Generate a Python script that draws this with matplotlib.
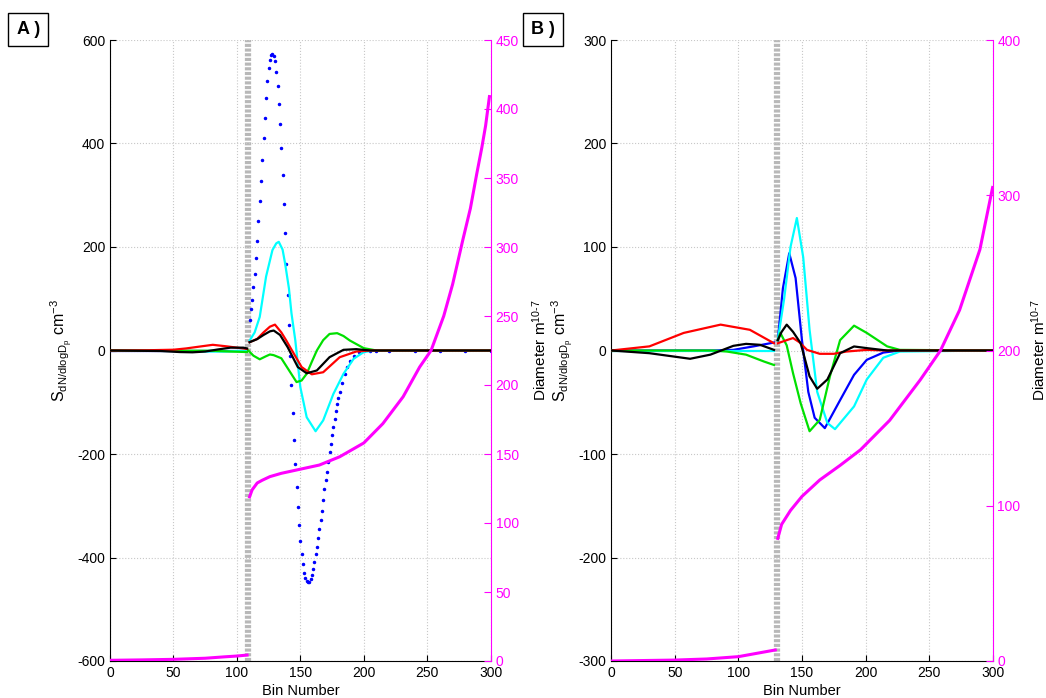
import numpy as np
import matplotlib
matplotlib.use('Agg')
import matplotlib.pyplot as plt

plt.rcParams['font.family'] = ['Liberation Sans', 'DejaVu Sans']
plt.rcParams['mathtext.fontset'] = 'custom'
plt.rcParams['mathtext.rm'] = 'Liberation Sans'
plt.rcParams['mathtext.it'] = 'Liberation Sans'
plt.rcParams['mathtext.default'] = 'rm'
plt.rcParams['axes.unicode_minus'] = False

# ---------------- panel A data ----------------
# before the gap (bins 0..108)
a_red_lo_x = [0, 30, 40, 50, 60, 71, 81, 92, 100, 108]
a_red_lo_y = [0, 0.5, 1, 1.5, 4, 7.7, 11, 8, 5.5, 3]
a_blk_lo_x = [0, 40, 55, 65, 75, 85, 95, 105, 108]
a_blk_lo_y = [0, -1, -3, -3.5, -2, 2, 5.5, 5.5, 4]
a_grn_lo_x = [0, 80, 95, 108]
a_grn_lo_y = [0, -0.5, -2, -3]
a_cyn_lo_x = [0, 50, 65, 90, 100, 108]
a_cyn_lo_y = [0, -1, -2, -2, -1, 0]
a_blu_lo_x = [0, 108]
a_blu_lo_y = [0, 0]

# after the gap
a_red_x = [110, 116, 121, 126, 130, 135, 139, 142, 151, 159, 168, 181, 194, 205, 220, 300]
a_red_y = [16, 22.5, 35, 46, 50, 35, 19, 6, -32, -46, -42, -13, -2, 0, 0, 0]
a_blk_x = [110, 116, 121, 126, 129, 134, 140, 148, 155, 163, 173, 184, 194, 205, 300]
a_blk_y = [16, 22, 30, 37, 38.6, 30, 6.4, -32, -44, -38.6, -12.9, 1.3, 2.6, 0, 0]
a_grn_x = [109, 113, 118, 123, 126, 129, 135, 141, 147, 151, 155, 159, 163, 168, 173, 179, 184, 189, 200, 210, 300]
a_grn_y = [0, -10, -17, -11, -7.7, -9, -15, -38, -61, -58, -45, -22, 0, 20, 32, 33.5, 28, 19.3, 4.5, 0, 0]
a_cyn_x = [110, 114, 118, 123, 128, 131, 133, 136, 138, 141, 143, 146, 150, 155, 162, 168, 176, 184, 192, 200, 208, 300]
a_cyn_y = [19, 35, 65, 143, 194, 207, 210, 195, 168, 120, 72, 20, -71, -129, -156, -135, -84, -45, -16, -3, 0, 0]
a_blu_x = [110, 111, 112, 113, 114, 115, 116, 117, 118, 119, 120, 121, 122, 123, 124, 125, 126, 127, 128, 129,
           130, 131, 132, 133, 134, 135, 136, 137, 138, 139, 140, 141, 142, 143, 144, 145, 146, 147, 148, 149,
           150, 151, 152, 153, 154, 155, 156, 157, 158, 159, 160, 161, 162, 163, 164, 165, 166, 167, 168, 169,
           170, 171, 172, 173, 174, 175, 176, 177, 178, 179, 180, 181, 183, 185, 187, 189, 192, 196, 200, 205,
           210, 220, 240, 260, 280, 300]
a_blu_y = [58, 80, 98, 122, 148, 178, 212, 250, 288, 328, 368, 410, 450, 488, 520, 545, 562, 571, 573, 570,
           559, 539, 512, 477, 437, 391, 340, 284, 228, 168, 107, 49, -10, -67, -120, -172, -219, -263, -303, -337,
           -368, -393, -413, -429, -439, -445, -448, -447, -442, -434, -422, -408, -394, -380, -362, -345, -328, -310, -289, -268,
           -250, -234, -216, -197, -180, -164, -148, -132, -116, -103, -92, -80, -62, -45, -32, -21, -10, -3, -1, 0,
           0, 0, 0, 0, 0, 0]

a_dia_lo_x = [0, 25, 50, 75, 90, 100, 108]
a_dia_lo_y = [0.5, 0.8, 1.2, 2, 3, 3.6, 4.3]
a_dia_x = [110, 112, 116, 120, 126, 135, 147, 165, 181, 200, 215, 231, 244, 253, 263, 270, 278, 284, 289, 293, 296, 299]
a_dia_y = [119, 124, 129, 131, 133.6, 136, 138.4, 142, 148, 158, 172, 191.5, 213, 225, 250, 273, 305, 328, 353, 372, 388, 409]

# ---------------- panel B data ----------------
b_red_lo_x = [0, 30, 57, 86, 109, 128]
b_red_lo_y = [0, 4, 17, 25, 20, 7]
b_blk_lo_x = [0, 30, 62, 78, 96, 106, 117, 128]
b_blk_lo_y = [0, -2.6, -8, -4, 4.5, 6.4, 5.5, 0.6]
b_grn_lo_x = [0, 80, 91, 106, 120, 128]
b_grn_lo_y = [0, 0, -1, -4, -10.6, -14]
b_cyn_lo_x = [0, 128]
b_cyn_lo_y = [0, 0]
b_blu_lo_x = [0, 80, 96, 112, 128]
b_blu_lo_y = [0, 0, 0.6, 4, 7.7]

b_red_x = [131, 138, 143, 148, 154, 164, 175, 185, 201, 217, 300]
b_red_y = [7, 10, 12, 8, 0.6, -3.2, -3.2, -1, 0.6, 0, 0]
b_blk_x = [131, 134, 138, 143, 149, 156, 162, 170, 180, 191, 201, 217, 300]
b_blk_y = [10, 18, 25, 18, 7, -25, -37, -28, -2.6, 3.9, 2.3, 0, 0]
b_grn_x = [131, 133, 138, 143, 149, 156, 164, 172, 180, 191, 201, 217, 227, 300]
b_grn_y = [10, 17, 5, -22, -51, -78, -67, -25, 10, 24, 17, 4, 0.6, 0]
b_cyn_x = [131, 136, 141, 146, 151, 156, 162, 170, 176, 191, 201, 214, 227, 300]
b_cyn_y = [10, 50, 100, 128, 90, 20, -40, -70, -76, -54, -28, -7, -1, 0]
b_blu_x = [131, 135, 140, 145, 150, 155, 160, 168, 180, 191, 201, 214, 227, 300]
b_blu_y = [10, 60, 94, 70, 10, -40, -65, -75, -48, -23.5, -9, -2, 0, 0]

b_dia_lo_x = [0, 50, 75, 100, 129]
b_dia_lo_y = [0, 0.6, 1.3, 2.8, 7.1]
b_dia_x = [131, 134, 141, 150, 164, 180, 196, 219, 243, 259, 274, 290, 300]
b_dia_y = [79, 88, 97, 106, 116.6, 126, 136, 155, 181, 200, 226, 265, 305]

GRAY = '#b8b8b8'
MAG = '#ff00ff'


def draw_panel(rect, tag, tag_x, gap, ylim, yticks, rlim, rticks, lo, hi, dia, rlab_x):
    ax = fig.add_axes(rect)
    ax.set_xlim(0, 300)
    ax.set_ylim(*ylim)
    ax.set_xticks(range(0, 301, 50))
    ax.set_yticks(yticks)
    ax.grid(True, color='#c8c8c8', linestyle=':', linewidth=0.8)
    ax.tick_params(direction='in', length=4, labelsize=10, top=False, right=False)
    ax.spines['top'].set_visible(False)
    ax.spines['right'].set_visible(False)

    # gap marker
    ax.axvline(gap, color=GRAY, lw=4.5, dashes=(0.5, 0.25), zorder=1)

    cols = ['blue', 'cyan', '#00e000', 'red', 'black']
    for c, (xl, yl), (xh, yh) in zip(cols, lo, hi):
        ax.plot(xl, yl, color=c, lw=1.6, zorder=3)
        if len(xh) > 60:
            ax.plot(xh, yh, '.', color=c, ms=3, zorder=3)
        else:
            ax.plot(xh, yh, color=c, lw=1.6, zorder=3)
    ax.set_xlabel('Bin Number', fontsize=10.5, labelpad=3)
    ax.set_ylabel(r'$S_{dN/dlogD_p}$ cm$^{-3}$', fontsize=11.5)
    ax.yaxis.set_label_coords(-0.095, 0.5)

    ax2 = ax.twinx()
    ax2.set_ylim(*rlim)
    ax2.set_yticks(rticks)
    ax2.tick_params(direction='in', length=5, labelsize=10, colors=MAG, labelcolor=MAG)
    for s in ['top', 'left', 'bottom']:
        ax2.spines[s].set_visible(False)
    ax2.spines['right'].set_color(MAG)
    (xl, yl), (xh, yh) = dia
    ax2.plot(xl, yl, color=MAG, lw=2.2)
    ax2.plot(xh, yh, color=MAG, lw=2.2)
    ax2.set_ylabel(r'Diameter m$^{10\text{-}7}$', fontsize=11)
    ax2.yaxis.set_label_coords(rlab_x, 0.5)

    fig.text(tag_x, 0.958, tag, fontsize=13, fontweight='bold', ha='center', va='center',
             bbox=dict(boxstyle='square,pad=0.45', fc='white', ec='black', lw=1))
    return ax


fig = plt.figure(figsize=(10.46, 6.98), dpi=100)

draw_panel([110 / 1046, 37 / 698, 380.7 / 1046, 621 / 698], 'A )', 0.027, 108.5,
           (-600, 600), range(-600, 601, 200), (0, 450), range(0, 451, 50),
           [(a_blu_lo_x, a_blu_lo_y), (a_cyn_lo_x, a_cyn_lo_y), (a_grn_lo_x, a_grn_lo_y),
            (a_red_lo_x, a_red_lo_y), (a_blk_lo_x, a_blk_lo_y)],
           [(a_blu_x, a_blu_y), (a_cyn_x, a_cyn_y), (a_grn_x, a_grn_y),
            (a_red_x, a_red_y), (a_blk_x, a_blk_y)],
           [(a_dia_lo_x, a_dia_lo_y), (a_dia_x, a_dia_y)], 1.105)

draw_panel([611.3 / 1046, 37 / 698, 381.3 / 1046, 621 / 698], 'B )', 0.519, 130.5,
           (-300, 300), range(-300, 301, 100), (0, 400), range(0, 401, 100),
           [(b_blu_lo_x, b_blu_lo_y), (b_cyn_lo_x, b_cyn_lo_y), (b_grn_lo_x, b_grn_lo_y),
            (b_red_lo_x, b_red_lo_y), (b_blk_lo_x, b_blk_lo_y)],
           [(b_blu_x, b_blu_y), (b_cyn_x, b_cyn_y), (b_grn_x, b_grn_y),
            (b_red_x, b_red_y), (b_blk_x, b_blk_y)],
           [(b_dia_lo_x, b_dia_lo_y), (b_dia_x, b_dia_y)], 1.096)

fig.savefig('out.png', dpi=100)
